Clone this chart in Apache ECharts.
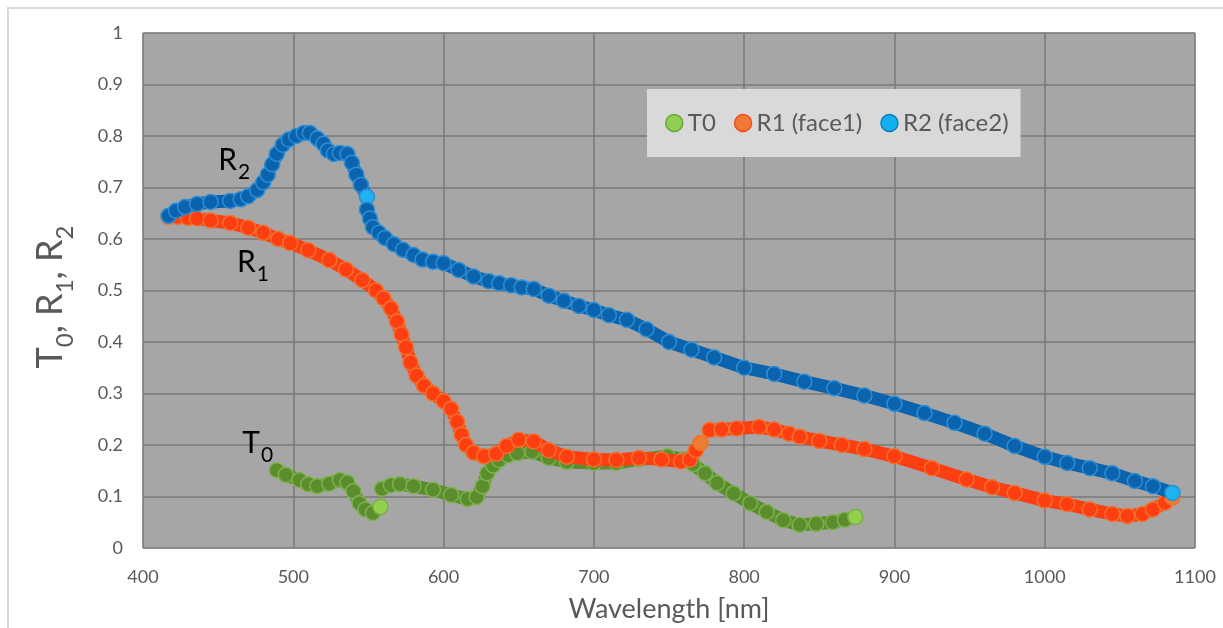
<!DOCTYPE html>
<html><head><meta charset="utf-8">
<script src="https://cdn.jsdelivr.net/npm/echarts@6/dist/echarts.min.js"></script>
<style>html,body{margin:0;padding:0;background:#fff}#c{width:1223px;height:628px}</style>
</head><body><div id="c"></div>
<script>
// ---- data (wavelength in nm, value); null marks a break in the trace ----
const seriesNames = ['T0', 'R1 (face1)', 'R2 (face2)'];
const xTickValues = [400, 500, 600, 700, 800, 900, 1000, 1100];
const yTickValues = [0, 0.1, 0.2, 0.3, 0.4, 0.5, 0.6, 0.7, 0.8, 0.9, 1];

const t0Wave = [489,495,504,510,516,524,531,536,540,544,548,553,558,null,559,565,571,580,593,605,616,622,626,629,633,637,643,649,659,670,682,700,715,730,749,760,766,774,782,793,804,815,826,837,848,859,867,874];
const t0Value = [0.151,0.142,0.132,0.124,0.12,0.125,0.132,0.127,0.11,0.087,0.075,0.068,0.08,null,0.115,0.122,0.124,0.12,0.113,0.103,0.095,0.099,0.12,0.145,0.16,0.171,0.18,0.184,0.187,0.175,0.167,0.165,0.165,0.172,0.178,0.172,0.163,0.145,0.126,0.106,0.087,0.07,0.054,0.045,0.047,0.05,0.055,0.06];

const r1Wave = [417,423,430,436,445,458,470,480,490,498,510,524,535,546,555,560,565,569,572,575,578,582,587,593,600,605,609,612,615,620,627,635,642,650,660,670,682,700,715,730,745,758,764,768,771,null,777,785,795,810,820,830,837,850,865,880,900,925,948,965,980,1000,1015,1030,1045,1055,1065,1072,1080,1085];
const r1Value = [0.643,0.643,0.641,0.64,0.636,0.631,0.622,0.612,0.6,0.592,0.578,0.559,0.541,0.52,0.5,0.485,0.465,0.44,0.415,0.39,0.36,0.335,0.315,0.3,0.285,0.27,0.245,0.22,0.2,0.185,0.178,0.183,0.198,0.21,0.207,0.19,0.177,0.172,0.171,0.175,0.172,0.168,0.172,0.19,0.204,null,0.229,0.23,0.232,0.235,0.23,0.222,0.216,0.208,0.2,0.192,0.178,0.155,0.133,0.118,0.107,0.092,0.085,0.075,0.066,0.062,0.066,0.075,0.088,0.098];

const r2Wave = [417,422,428,436,445,458,465,470,476,480,483,486,489,493,497,502,507,511,516,520,523,527,531,536,539,542,545,549,null,549,551,553,557,561,567,573,580,586,593,600,610,620,630,637,645,652,660,670,680,690,700,710,722,735,750,765,780,800,820,840,860,880,900,920,940,960,980,1000,1015,1030,1045,1060,1072,1085];
const r2Value = [0.645,0.655,0.662,0.668,0.672,0.674,0.677,0.683,0.695,0.71,0.725,0.745,0.765,0.783,0.793,0.8,0.806,0.806,0.795,0.785,0.772,0.765,0.767,0.765,0.748,0.725,0.705,0.682,null,0.657,0.64,0.623,0.612,0.602,0.59,0.579,0.569,0.56,0.556,0.553,0.54,0.527,0.518,0.514,0.51,0.506,0.503,0.49,0.48,0.47,0.462,0.452,0.443,0.425,0.4,0.385,0.37,0.35,0.338,0.323,0.31,0.296,0.28,0.262,0.243,0.222,0.198,0.177,0.165,0.155,0.145,0.13,0.12,0.107];

// annotation labels (main letter, subscript, anchor wavelength, anchor value)
const annoText = ['R', 'R', 'T'];
const annoSub = ['2', '1', '0'];
const annoWave = [450, 462.5, 466];
const annoValue = [0.753, 0.555, 0.204];

// ---- styling ----
const styles = [
  {fill: '#5b8d2e', rim: '#7cb24a', end: '#92d050', legend: '#8fcf52', legendBorder: '#6ea23a'},
  {fill: '#fd3e10', rim: '#f2712f', end: '#ed7d31', legend: '#f07a35', legendBorder: '#f24a1c'},
  {fill: '#0b62ad', rim: '#2b8fd6', end: '#1fb2f0', legend: '#12b0f0', legendBorder: '#0a7cc2'}
];
const FONT = 'Lato, "Open Sans", sans-serif';

function segments(w, v) {
  const out = [[]];
  for (let i = 0; i < w.length; i++) {
    if (w[i] === null || v[i] === null) { out.push([]); continue; }
    out[out.length - 1].push([w[i], v[i]]);
  }
  return out.filter(s => s.length);
}

const allData = [[t0Wave, t0Value], [r1Wave, r1Value], [r2Wave, r2Value]];
const series = [];
allData.forEach((d, k) => {
  const st = styles[k];
  segments(d[0], d[1]).forEach(seg => {
    const last = seg.length - 1;
    series.push({
      name: seriesNames[k], type: 'line', data: seg,
      symbol: 'circle', symbolSize: 15, showAllSymbol: true,
      z: 2 + k, silent: true,
      lineStyle: {width: 13, color: st.fill},
      itemStyle: {
        color: p => (p.dataIndex === last ? st.end : st.fill),
        borderColor: st.rim, borderWidth: 1.5
      },
      emphasis: {disabled: true}
    });
  });
});

const chart = echarts.init(document.getElementById('c'), null, {renderer: 'canvas'});
chart.setOption({
  animation: false,
  backgroundColor: '#ffffff',
  grid: {left: 143, top: 33, right: 28, bottom: 80, show: true, backgroundColor: '#a6a6a6', borderColor: '#b4b4b4', borderWidth: 1},
  xAxis: {
    type: 'value', min: xTickValues[0], max: xTickValues[xTickValues.length - 1], interval: 100,
    name: 'Wavelength [nm]', nameLocation: 'middle', nameGap: 48,
    nameTextStyle: {fontSize: 27, color: '#595959', fontFamily: FONT},
    axisLine: {show: false}, axisTick: {show: false},
    axisLabel: {fontSize: 18, color: '#595959', fontFamily: FONT, margin: 20, formatter: v => String(v)},
    splitLine: {lineStyle: {color: '#787878', width: 1.5}}
  },
  yAxis: {
    type: 'value', min: yTickValues[0], max: yTickValues[yTickValues.length - 1], interval: 0.1,
    axisLine: {show: false}, axisTick: {show: false},
    axisLabel: {fontSize: 18, color: '#595959', fontFamily: FONT, margin: 20, formatter: v => String(Math.round(v * 10) / 10)},
    splitLine: {lineStyle: {color: '#787878', width: 1.5}}
  },
  legend: {
    left: 647, top: 89, orient: 'horizontal',
    backgroundColor: '#d9d9d9', padding: [22, 12, 22, 18],
    icon: 'circle', itemWidth: 17, itemHeight: 17, itemGap: 18,
    textStyle: {fontSize: 24, color: '#595959', fontFamily: FONT},
    data: seriesNames.map((n, k) => ({name: n, itemStyle: {color: styles[k].legend, borderColor: styles[k].legendBorder, borderWidth: 1.5}}))
  },
  series: series
});

// ---- text overlays (subscripted labels) ----
const ctx = document.createElement('canvas').getContext('2d');
function tw(txt, size) { ctx.font = size + 'px Lato'; return ctx.measureText(txt).width; }

const graphics = [{
  type: 'rect', shape: {x: 8, y: 8, width: 1240, height: 660},
  style: {fill: null, stroke: '#d9d9d9', lineWidth: 2}, silent: true, z: 0
}];

annoText.forEach((t, i) => {
  const p = chart.convertToPixel({gridIndex: 0}, [annoWave[i], annoValue[i]]);
  const big = 30, small = 21;
  const w = tw(t, big);
  graphics.push({type: 'text', x: p[0], y: p[1], z: 100, silent: true,
    style: {text: t, font: big + 'px ' + FONT, fill: '#000', textAlign: 'left', textVerticalAlign: 'middle'}});
  graphics.push({type: 'text', x: p[0] + w + 1, y: p[1] + 12, z: 100, silent: true,
    style: {text: annoSub[i], font: small + 'px ' + FONT, fill: '#000', textAlign: 'left', textVerticalAlign: 'middle'}});
});

// y axis title "T0, R1, R2" with subscripts, rotated
const yParts = [['T', 0], ['0', 1], [', R', 0], ['1', 1], [', R', 0], ['2', 1]];
const bigY = 36, smallY = 24;
let total = 0;
const widths = yParts.map(pt => { const w = tw(pt[0], pt[1] ? smallY : bigY); total += w; return w; });
let cx = -total / 2;
const kids = yParts.map((pt, i) => {
  const el = {type: 'text', x: cx, y: pt[1] ? 15 : 0, silent: true,
    style: {text: pt[0], font: (pt[1] ? smallY : bigY) + 'px ' + FONT, fill: '#595959', textAlign: 'left', textVerticalAlign: 'middle'}};
  cx += widths[i];
  return el;
});
graphics.push({type: 'group', x: 50, y: 297, rotation: Math.PI / 2, children: kids, z: 100});

chart.setOption({graphic: graphics});
</script>
</body></html>
